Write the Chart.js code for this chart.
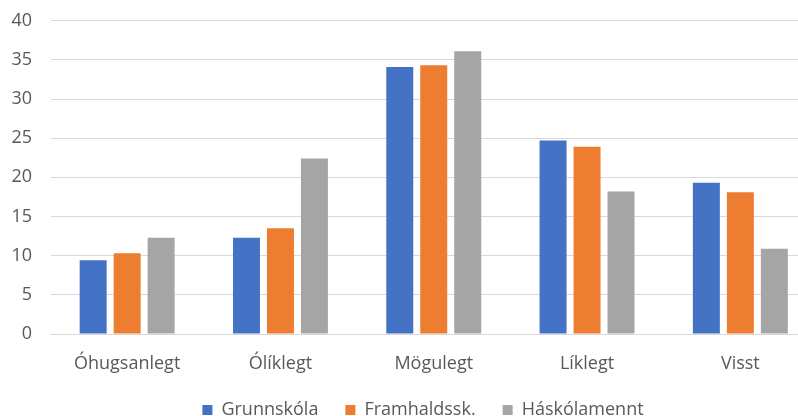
<!DOCTYPE html>
<html>
<head>
<meta charset="utf-8">
<script src="https://cdn.jsdelivr.net/npm/chart.js@4"></script>
<style>
  html, body { margin: 0; padding: 0; background: #fff; overflow: hidden; }
  #wrap { width: 846px; height: 416px; }
</style>
</head>
<body>
<div id="wrap"><canvas id="myChart"></canvas></div>
<script>
// flokkar og gildi lesin af myndinni
const categories = ['Óhugsanlegt', 'Ólíklegt', 'Mögulegt', 'Líklegt', 'Visst'];
const grunnskola = [9.4, 12.3, 34.1, 24.7, 19.3];
const framhald = [10.3, 13.5, 34.3, 23.9, 18.1];
const haskola = [12.3, 22.4, 36.1, 18.2, 10.9];
const seriesNames = ['Grunnskóla', 'Framhaldssk.', 'Háskólamennt'];
const yTicks = [0, 5, 10, 15, 20, 25, 30, 35, 40];

const textColor = '#595959';
const fontFamily = "'Open Sans', 'Noto Sans', sans-serif";

const ctx = document.getElementById('myChart').getContext('2d');
const myChart = new Chart(ctx, {
    type: 'bar',
    data: {
        labels: categories,
        datasets: [
            { label: seriesNames[0], data: grunnskola, backgroundColor: '#4472C4' },
            { label: seriesNames[1], data: framhald, backgroundColor: '#ED7D31' },
            { label: seriesNames[2], data: haskola, backgroundColor: '#A5A5A5' }
        ]
    },
    options: {
        responsive: true,
        maintainAspectRatio: false,
        animation: false,
        categoryPercentage: 0.665,
        barPercentage: 0.794,
        layout: { padding: { top: 20.7, left: 0, right: 0, bottom: -13 } },
        scales: {
            x: {
                grid: { display: false, drawTicks: false },
                border: { display: true, color: '#d9d9d9' },
                ticks: { color: textColor, padding: 20.5, font: { family: fontFamily, size: 18, lineHeight: 1 } },
                afterFit: s => { s.height = 40; }
            },
            y: {
                min: 0,
                max: 40,
                afterBuildTicks: s => { s.ticks = yTicks.map(v => ({ value: v })); },
                grid: { color: '#d9d9d9', drawTicks: false },
                border: { display: false },
                ticks: { color: textColor, padding: 18.5, font: { family: fontFamily, size: 18 } },
                afterFit: s => {
                    s.width = 50.5;
                    // tick-bilið á ekki að ýta teiknisvæðinu niður
                    s.paddingTop = 0;
                    s.paddingBottom = 0;
                }
            },
            // tómur ás hægra megin svo teiknisvæðið endi á sama stað
            y2: {
                position: 'right',
                display: true,
                grid: { display: false, drawTicks: false },
                border: { display: false },
                ticks: { display: false },
                afterFit: s => { s.width = 29; }
            }
        },
        plugins: {
            legend: {
                position: 'bottom',
                labels: {
                    boxWidth: 10,
                    boxHeight: 10,
                    padding: 27,
                    color: textColor,
                    font: { family: fontFamily, size: 18 }
                }
            },
            tooltip: { enabled: false }
        }
    }
});
</script>
</body>
</html>
